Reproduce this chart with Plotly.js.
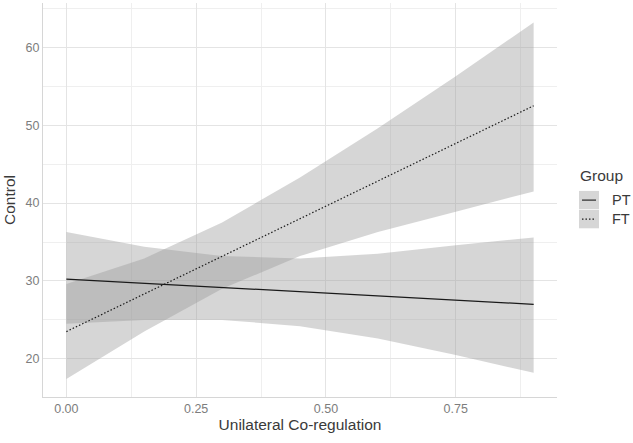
<!DOCTYPE html>
<html>
<head>
<meta charset="utf-8">
<script src="https://cdn.plot.ly/plotly-3.0.1.min.js"></script>
<style>
  html, body { margin: 0; padding: 0; background: #fff; }
  #plot { width: 633px; height: 443px; }
</style>
</head>
<body>
<div id="plot"></div>
<script>
// fitted lines (straight, so only the end points)
let lineX = [0, 0.9];
let ptLine = [30.25, 27.0];
let ftLine = [23.5, 52.5];

// confidence bands
let bandX = [0, 0.15, 0.3, 0.45, 0.6, 0.75, 0.9];
let ptUpper = [36.3, 34.4, 33.2, 32.9, 33.5, 34.6, 35.6];
let ptLower = [24.5, 25.0, 25.0, 24.2, 22.6, 20.5, 18.2];
let ftUpper = [29.6, 32.9, 37.5, 43.3, 49.6, 56.3, 63.2];
let ftLower = [17.4, 23.5, 29.0, 33.2, 36.3, 38.9, 41.5];

let groups = ["PT", "FT"];
let dashes = ['solid', '1.5px,2px'];

let bandFill = 'rgba(153,153,153,0.4)';
let lineColor = '#1a1a1a';
let fontFamily = 'Liberation Sans, Arial, sans-serif';

function band(upper, lower) {
    // closed polygon: upper edge left->right, lower edge right->left
    return {
        x: bandX.concat(bandX.slice().reverse()),
        y: upper.concat(lower.slice().reverse()),
        mode: 'lines',
        fill: 'toself',
        fillcolor: bandFill,
        line: { width: 0 },
        hoverinfo: 'skip',
        showlegend: false
    };
}

let traces = [
    band(ptUpper, ptLower),
    band(ftUpper, ftLower),
    {
        x: lineX, y: ptLine, mode: 'lines', name: groups[0], showlegend: false,
        line: { color: lineColor, width: 1.2, dash: dashes[0] }
    },
    {
        x: lineX, y: ftLine, mode: 'lines', name: groups[1], showlegend: false,
        line: { color: lineColor, width: 1.2, dash: dashes[1] }
    }
];

// ggplot-style legend: grey key boxes with the line style, built from groups
let shapes = [];
let annotations = [{
    xref: 'paper', yref: 'paper', x: 1.041, y: 0.561,
    xanchor: 'left', yanchor: 'middle', showarrow: false,
    text: 'Group', font: { family: fontFamily, size: 15.5, color: '#3a3a3a' }
}];
groups.forEach((g, i) => {
    let yTop = 0.523 - i * 0.0483;
    let yBot = yTop - 0.0465;
    let yMid = (yTop + yBot) / 2;
    shapes.push({
        type: 'rect', xref: 'paper', yref: 'paper',
        x0: 1.0428, x1: 1.0817, y0: yBot, y1: yTop,
        fillcolor: bandFill, line: { width: 0 }
    });
    shapes.push({
        type: 'line', xref: 'paper', yref: 'paper',
        x0: 1.0486, x1: 1.0759, y0: yMid, y1: yMid,
        line: { color: lineColor, width: 1.1, dash: dashes[i] }
    });
    annotations.push({
        xref: 'paper', yref: 'paper', x: 1.104, y: yMid,
        xanchor: 'left', yanchor: 'middle', showarrow: false,
        text: g, font: { family: fontFamily, size: 14.5, color: '#3a3a3a' }
    });
});

let tickFont = { family: fontFamily, size: 12.5, color: '#7d7d7d' };
let titleFont = { family: fontFamily, size: 15.5, color: '#3a3a3a' };

let layout = {
    width: 633,
    height: 443,
    margin: { l: 43, r: 76, t: 3, b: 46 },
    paper_bgcolor: '#fff',
    plot_bgcolor: '#fff',
    showlegend: false,
    shapes: shapes,
    annotations: annotations,
    xaxis: {
        range: [-0.045, 0.945],
        tickvals: [0, 0.25, 0.5, 0.75],
        ticktext: ['0.00', '0.25', '0.50', '0.75'],
        tickfont: tickFont,
        gridcolor: '#e4e4e4',
        gridwidth: 1,
        minor: { tickvals: [0.125, 0.375, 0.625, 0.875], showgrid: true, gridcolor: '#efefef', gridwidth: 1 },
        zeroline: false,
        showline: true,
        linecolor: '#d6d6d6',
        linewidth: 1,
        ticks: '',
        automargin: true,
        title: { text: 'Unilateral Co-regulation', font: titleFont, standoff: 0 }
    },
    yaxis: {
        range: [15.1, 65.7],
        tickvals: [20, 30, 40, 50, 60],
        tickfont: tickFont,
        gridcolor: '#e4e4e4',
        gridwidth: 1,
        minor: { tickvals: [25, 35, 45, 55, 65], showgrid: true, gridcolor: '#efefef', gridwidth: 1 },
        zeroline: false,
        showline: true,
        linecolor: '#d6d6d6',
        linewidth: 1,
        ticks: '',
        title: { text: 'Control', font: titleFont, standoff: 6 }
    }
};

Plotly.newPlot('plot', traces, layout, { displayModeBar: false, staticPlot: true });
</script>
</body>
</html>
